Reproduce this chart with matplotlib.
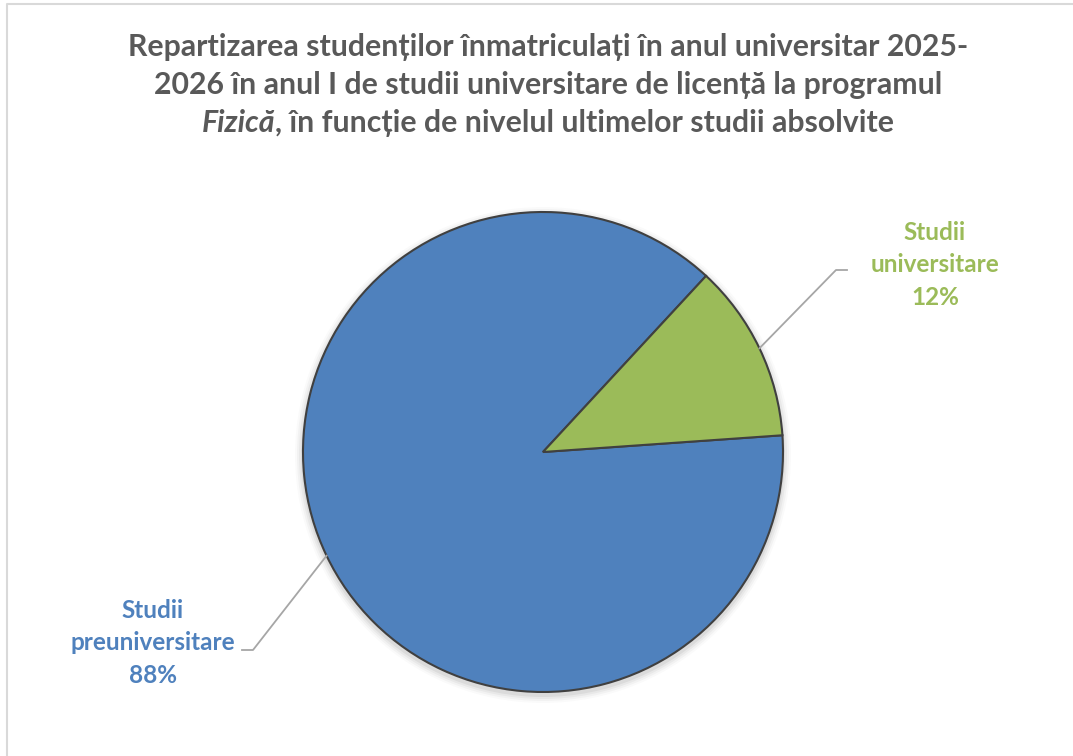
import numpy as np
import matplotlib
matplotlib.use("Agg")
import matplotlib.pyplot as plt
from matplotlib.patches import Circle

# data
categories = ["Studii\npreuniversitare", "Studii\nuniversitare"]
shares = [88, 12]
colors = ["#4F81BD", "#9BBB59"]

title_lines = [
    "Repartizarea studenților înmatriculați în anul universitar 2025-",
    "2026 în anul I de studii universitare de licență la programul",
]
title_italic = "Fizică"
title_rest = ", în funcție de nivelul ultimelor studii absolvite"

FONT = ["Lato", "DejaVu Sans"]
W, H = 1073, 756

fig = plt.figure(figsize=(W / 100, H / 100), dpi=100)
ax = fig.add_axes([0, 0, 1, 1])

cx, cy, r = 543, H - 452, 240

# soft shadow under the pie
for k, a in enumerate([0.05, 0.04, 0.03, 0.02]):
    ax.add_patch(Circle((cx, cy - 3), r + 2 + 2 * k, color="#000000", alpha=a,
                        lw=0, zorder=0))

wedges, _ = ax.pie(shares, colors=colors, startangle=47.2, counterclock=True,
                   center=(cx, cy), radius=r,
                   wedgeprops=dict(edgecolor="#404040", linewidth=1.5))
ax.set_xlim(0, W)
ax.set_ylim(0, H)
ax.set_aspect("equal")
ax.axis("off")

# outer border of the chart area
ax.plot([7, 7, W + 5], [-5, H - 4, H - 4], color="#d9d9d9", lw=1.5,
        solid_capstyle="butt")

# labels with leader lines: (label centre, elbow x, end x, elbow y)
label_pos = [(153, H - 643, 253, 242, H - 650), (935, H - 265, 836, 847, H - 270)]
for w, lab, pct, col, (lx, ly, bx, ex, by) in zip(wedges, categories, shares,
                                                  colors, label_pos):
    ang = np.deg2rad((w.theta1 + w.theta2) / 2)
    sx, sy = cx + r * np.cos(ang), cy + r * np.sin(ang)
    ax.plot([sx, bx, ex], [sy, by, by], color="#a6a6a6", lw=1.3)
    ax.text(lx, ly, f"{lab}\n{pct}%", ha="center", va="center", color=col,
            fontsize=17.5, fontweight="bold", family=FONT, linespacing=1.5)

# title
tkw = dict(fontsize=21.8, fontweight="bold", color="#595959", family=FONT,
           ha="center", va="center")
ax.text(548, H - 47, title_lines[0], **tkw)
ax.text(548, H - 85, title_lines[1], **tkw)

fig.canvas.draw()
rend = fig.canvas.get_renderer()
t1 = ax.text(0, H - 123, title_italic, style="italic",
             **{**tkw, "ha": "left"})
t2 = ax.text(0, H - 123, title_rest, **{**tkw, "ha": "left"})
w1 = t1.get_window_extent(rend).width
w2 = t2.get_window_extent(rend).width
x0 = 548 - (w1 + w2) / 2
t1.set_x(x0)
t2.set_x(x0 + w1)

fig.savefig("out.png", dpi=100, facecolor="white")
